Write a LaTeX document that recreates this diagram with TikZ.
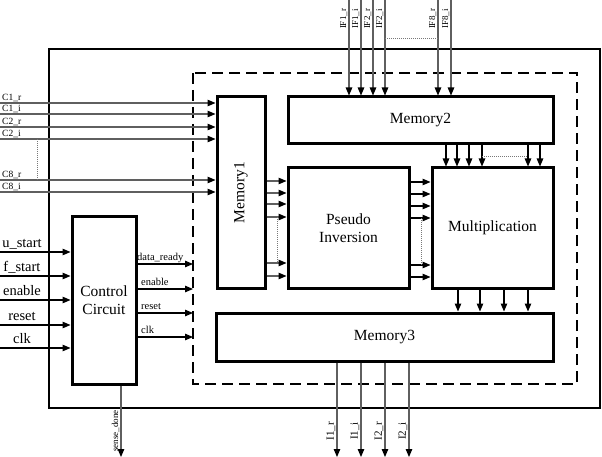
\documentclass[tikz,border=0pt]{standalone}
\usepackage{fontspec}
\setmainfont{Liberation Serif}
\usetikzlibrary{arrows.meta}
\definecolor{linegray}{RGB}{95,95,95}
\definecolor{dotgray}{RGB}{120,120,120}
\begin{document}
\begin{tikzpicture}[x=1pt,y=-1pt,
  blk/.style={draw, line width=3pt, inner sep=0pt, font=\fontsize{15.5}{18.5}\selectfont, align=center},
  arr/.style={line width=1.1pt, -{Triangle[length=8pt,width=6.5pt]}},
  garr/.style={line width=1.1pt, draw=linegray, -{Triangle[length=8pt,width=6.5pt,color=black]}},
  dotl/.style={densely dotted, line width=1pt, draw=dotgray},
  tiny/.style={font=\fontsize{9}{10}\selectfont, inner sep=0pt},
  small/.style={font=\fontsize{10.5}{11}\selectfont, inner sep=0pt},
  mid/.style={font=\fontsize{14.5}{16}\selectfont, inner sep=0pt},
]
\useasboundingbox (0,0) rectangle (602,457);
% frames
\draw[line width=1.4pt] (49,49) rectangle (600,408);
\draw[line width=1.8pt, dash pattern=on 11pt off 6pt] (193,73) rectangle (577,384);
\coordinate (dbw) at (193,0);
% blocks
\node[blk, minimum width=48pt, minimum height=191pt] (m1) at (241,192.5) {};
\node[font=\fontsize{15.5}{18.5}\selectfont, rotate=90] (m1t) at (m1.center) {Memory1};
\node[blk, minimum width=265pt, minimum height=47pt] (m2) at (420.5,120.5) {Memory2};
\node[blk, minimum width=121pt, minimum height=120pt] (pi) at (348.5,228) {Pseudo\\Inversion};
\node[blk, minimum width=121pt, minimum height=120pt] (mu) at (492.5,228) {Multiplication};
\node[blk, minimum width=337pt, minimum height=48pt] (m3) at (384.5,337) {Memory3};
\node[blk, minimum width=64pt, minimum height=168pt] (cc) at (104,300) {Control\\Circuit};
% IF inputs
\foreach \x/\t [count=\i] in {349/IF1\_r,361/IF1\_i,373/IF2\_r,385/IF2\_i,438/IF8\_r,451/IF8\_i}{
  \coordinate (if\i) at (\x,0);
  \draw[garr] (if\i) -- (if\i |- m2.north);
  \node[tiny, rotate=90, anchor=south] (ifl\i) at (\x-1.5,19) {\t};
}
\draw[dotl] (385,39) -- (438,39);
% C inputs
\foreach \y/\t [count=\i] in {103/C1\_r,114/C1\_i,127/C2\_r,139/C2\_i,180/C8\_r,192/C8\_i}{
  \coordinate (c\i) at (0,\y);
  \draw[garr] (c\i) -- (c\i -| m1.west);
  \node[tiny, font=\fontsize{9.5}{10}\selectfont, anchor=south west] (cl\i) at (2,\y-1.5) {\t};
}
\draw[dotl] (37,139) -- (37,180);
% Memory2 -> Multiplication
\foreach \x [count=\i] in {446,457,469,482,528,540}{
  \coordinate (ma\i) at (\x,144);
  \draw[arr] (ma\i |- m2.south) -- (ma\i |- mu.north);
}
\draw[dotl] (482,157) -- (528,157);
% Memory1 -> Pseudo
\foreach \y [count=\i] in {181,193,204,217,263,276}{
  \coordinate (mp\i) at (0,\y);
  \draw[garr] (mp\i -| m1.east) -- (mp\i -| pi.west);
}
\draw[dotl] (277,217) -- (277,263);
% Pseudo -> Multiplication
\foreach \y [count=\i] in {182,194,206,218,265,277}{
  \coordinate (pm\i) at (0,\y);
  \draw[arr] (pm\i -| pi.east) -- (pm\i -| mu.west);
}
\draw[dotl] (421,218) -- (421,265);
% Multiplication -> Memory3
\foreach \x [count=\i] in {458,480,504,528}{
  \coordinate (mm\i) at (\x,300);
  \draw[arr] (mm\i |- mu.south) -- (mm\i |- m3.north);
}
% Memory3 outputs
\foreach \x/\t [count=\i] in {337/I1\_r,361/I1\_i,385/I2\_r,409/I2\_i}{
  \coordinate (o\i) at (\x,457);
  \draw[garr] (o\i |- m3.south) -- (o\i);
  \node[font=\fontsize{11}{12}\selectfont, inner sep=0pt, rotate=90, anchor=south] (ol\i) at (\x-1.5,431) {\t};
}
% Control inputs
\foreach \y/\t [count=\i] in {252/u\_start,276/f\_start,300/enable,325/reset,348/clk}{
  \coordinate (ci\i) at (0,\y);
  \draw[arr] (ci\i) -- (ci\i -| cc.west);
  \node[mid, anchor=base] (cil\i) at (22,\y-5) {\t};
}
% Control outputs
\foreach \y/\t/\lx [count=\i] in {264/data\_ready/137,289/enable/141,313/reset/141,337/clk/141}{
  \coordinate (co\i) at (0,\y);
  \draw[arr] (co\i -| cc.east) -- (co\i -| dbw);
  \node[small, anchor=base west] (col\i) at (\lx,\y-4) {\t};
}
% sense_done
\coordinate (sd) at (121,457);
\draw[garr] (sd |- cc.south) -- (sd);
\node[tiny, rotate=90, anchor=south] (sdl) at (119.5,431) {sense\_done};
\end{tikzpicture}
\end{document}
